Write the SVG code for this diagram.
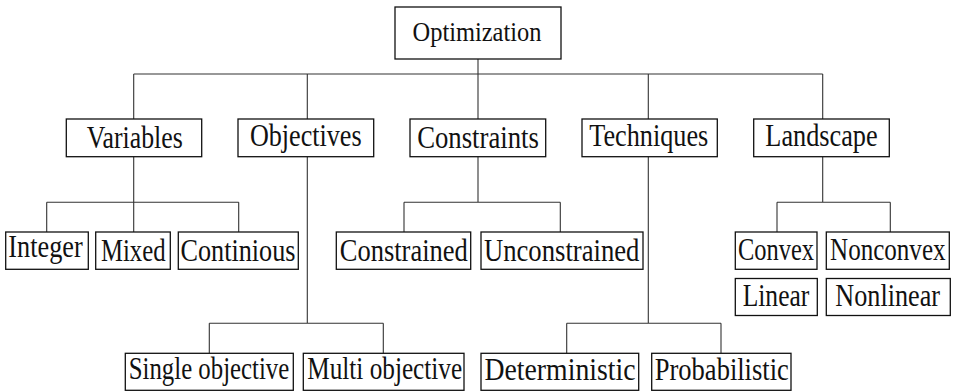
<svg xmlns="http://www.w3.org/2000/svg" width="956" height="391" viewBox="0 0 956 391">
<style>
rect{fill:#fff;stroke:#111;stroke-width:1.3}
text{font-family:"Liberation Serif","Times New Roman",serif;font-size:31px;fill:#111;text-anchor:middle}
#connectors path{fill:none;stroke:#333;stroke-width:1.1}
</style>
<rect x="0" y="0" width="956" height="391" style="stroke:none;fill:#fff"/>
<g id="connectors">
<path d="M478,59 V74 M133.7,74 H822.7 M133.7,74 V119 M307.3,74 V119 M478,74 V119 M648.3,74 V119 M822.7,74 V119"/>
<path d="M133.7,156.7 V232 M46.7,202.3 H238.7 M46.7,202.3 V232 M238.7,202.3 V232"/>
<path d="M307.3,156.7 V323.3 M209.3,323.3 H383.3 M209.3,323.3 V353.3 M383.3,323.3 V353.3"/>
<path d="M478,156.7 V202.3 M404,202.3 H560.3 M404,202.3 V232 M560.3,202.3 V232"/>
<path d="M648.3,156.7 V323.3 M566.7,323.3 H721 M566.7,323.3 V353.3 M721,323.3 V353.3"/>
<path d="M822.7,156.7 V202.3 M777,202.3 H890.3 M777,202.3 V232 M890.3,202.3 V232"/>
</g>
<g id="optimization"><rect x="395" y="7" width="166" height="52"/><text x="477" y="41" style="font-size:27px" textLength="129" lengthAdjust="spacingAndGlyphs">Optimization</text></g>
<g id="variables"><rect x="66.3" y="119" width="135.4" height="37.7"/><text x="134.7" y="148" textLength="96" lengthAdjust="spacingAndGlyphs">Variables</text></g>
<g id="objectives"><rect x="238" y="119" width="135.7" height="37.7"/><text x="305.8" y="145.7" textLength="111.7" lengthAdjust="spacingAndGlyphs">Objectives</text></g>
<g id="constraints"><rect x="410" y="119" width="135.7" height="37.7"/><text x="478" y="147.7" textLength="121.7" lengthAdjust="spacingAndGlyphs">Constraints</text></g>
<g id="techniques"><rect x="582" y="119" width="135.3" height="37.7"/><text x="648.8" y="145.7" textLength="119" lengthAdjust="spacingAndGlyphs">Techniques</text></g>
<g id="landscape"><rect x="753.7" y="119" width="135.6" height="37.7"/><text x="821.5" y="145.7" textLength="112.3" lengthAdjust="spacingAndGlyphs">Landscape</text></g>
<g id="integer"><rect x="5.7" y="232" width="82.6" height="37.3"/><text x="45.5" y="257.3" textLength="74.3" lengthAdjust="spacingAndGlyphs">Integer</text></g>
<g id="mixed"><rect x="95.7" y="232" width="74.6" height="37.3"/><text x="133.3" y="261" textLength="64.7" lengthAdjust="spacingAndGlyphs">Mixed</text></g>
<g id="continious"><rect x="178.3" y="232" width="120" height="37.3"/><text x="238" y="261" textLength="115" lengthAdjust="spacingAndGlyphs">Continious</text></g>
<g id="constrained"><rect x="336.3" y="232" width="134.4" height="37.3"/><text x="403.8" y="260.7" textLength="128" lengthAdjust="spacingAndGlyphs">Constrained</text></g>
<g id="unconstrained"><rect x="481" y="232" width="162" height="37.3"/><text x="561.7" y="260.5" textLength="155.5" lengthAdjust="spacingAndGlyphs">Unconstrained</text></g>
<g id="convex"><rect x="735.3" y="232" width="81.7" height="37.3"/><text x="776" y="260.3" textLength="76" lengthAdjust="spacingAndGlyphs">Convex</text></g>
<g id="nonconvex"><rect x="826.3" y="232" width="123" height="37.3"/><text x="887.8" y="260.3" textLength="115.5" lengthAdjust="spacingAndGlyphs">Nonconvex</text></g>
<g id="linear"><rect x="735.3" y="278.5" width="82" height="37"/><text x="776" y="306.3" textLength="66.7" lengthAdjust="spacingAndGlyphs">Linear</text></g>
<g id="nonlinear"><rect x="826.3" y="278.5" width="124" height="37"/><text x="887.7" y="306.3" textLength="104.7" lengthAdjust="spacingAndGlyphs">Nonlinear</text></g>
<g id="single-objective"><rect x="125.3" y="353.3" width="168" height="37"/><text x="209" y="378.5" textLength="160.5" lengthAdjust="spacingAndGlyphs">Single objective</text></g>
<g id="multi-objective"><rect x="303.3" y="353.3" width="160.7" height="37"/><text x="384.7" y="379" textLength="155" lengthAdjust="spacingAndGlyphs">Multi objective</text></g>
<g id="deterministic"><rect x="481" y="353.3" width="157.7" height="37"/><text x="560" y="380" textLength="151" lengthAdjust="spacingAndGlyphs">Deterministic</text></g>
<g id="probabilistic"><rect x="651.7" y="353.3" width="139.3" height="37"/><text x="721.8" y="380" textLength="134" lengthAdjust="spacingAndGlyphs">Probabilistic</text></g>
</svg>
